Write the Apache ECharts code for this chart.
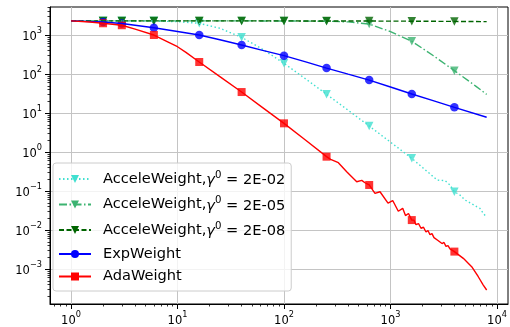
<!DOCTYPE html>
<html>
<head>
<meta charset="utf-8">
<script src="https://cdn.jsdelivr.net/npm/echarts@6/dist/echarts.min.js"></script>
<style>
  html, body { margin: 0; padding: 0; background: #fff; }
  #chart { width: 510px; height: 327px; }
</style>
</head>
<body>
<div id="chart"></div>
<script>
// iterations where markers are drawn
var markX = [2, 3, 6, 16, 40, 100, 251, 631, 1585, 3981];

// AcceleWeight, gamma0 = 2E-02
var accel02X = [1, 2, 3, 6, 10, 16, 25, 40, 63, 100, 160, 251, 400, 631, 1000, 1585, 2000, 2523, 2751, 3249, 3620, 3981, 4494, 5005, 5579, 6449, 6923, 7435, 8000];
var accel02Y = [2300, 2300, 2300, 2280, 2200, 1990, 1490, 873, 430, 188, 74.5, 30.1, 11.8, 4.64, 1.79, 0.69, 0.40, 0.233, 0.191, 0.185, 0.143, 0.096, 0.079, 0.0588, 0.050, 0.0396, 0.036, 0.0268, 0.0212];

// AcceleWeight, gamma0 = 2E-05
var accel05X = [1, 2, 3, 6, 16, 40, 100, 251, 400, 631, 1000, 1585, 2512, 3981, 6310, 8000];
var accel05Y = [2300, 2300, 2300, 2300, 2300, 2300, 2290, 2250, 2170, 1910, 1220, 690, 298, 122, 49, 30];

// AcceleWeight, gamma0 = 2E-08
var accel08X = [1, 2, 3, 6, 16, 40, 100, 251, 631, 1585, 3981, 8000];
var accel08Y = [2300, 2300, 2300, 2300, 2300, 2300, 2300, 2290, 2280, 2260, 2230, 2200];

// ExpWeight
var expX = [1, 2, 3, 6, 10, 16, 25, 40, 63, 100, 160, 251, 400, 631, 1000, 1585, 2512, 3981, 8000];
var expY = [2300, 2150, 1980, 1540, 1230, 1000, 755, 555, 405, 295, 204, 142, 99, 70, 46.5, 30.7, 20.8, 14.0, 7.8];

// AdaWeight
var adaX = [1, 1.5, 2, 3, 4, 6, 8, 10, 12, 16, 25, 40, 63, 100, 160, 251, 274, 324, 388, 482, 537, 576, 631,
  715, 797, 948, 1049, 1184, 1302, 1383, 1476, 1585, 1663, 1736, 1832, 1934, 2041, 2154, 2250, 2349, 2453,
  2561, 2674, 2793, 2916, 3045, 3180, 3320, 3467, 3620, 3981, 4827, 5787, 6674, 7435, 8000];
var adaY = [2300, 2160, 2000, 1780, 1420, 1000, 680, 500, 360, 203, 86, 34.5, 13.8, 5.44, 2.01, 0.76, 0.65, 0.532, 0.313, 0.173, 0.188, 0.163, 0.143,
  0.0873, 0.096, 0.0492, 0.0571, 0.0303, 0.036, 0.0235, 0.0265, 0.018, 0.0179, 0.0137, 0.0147, 0.0111, 0.0118, 0.0089, 0.0097, 0.0076, 0.0081,
  0.0064, 0.0068, 0.0054, 0.0057, 0.0045, 0.0048, 0.0038, 0.0040, 0.0033, 0.0028, 0.00188, 0.00115, 0.000635, 0.000389, 0.00029];

// axis ranges and major ticks
var xMin = 0.635, xMax = 12690;
var yMin = 1.27e-4, yMax = 5224;
var majorX = [1, 10, 100, 1000, 10000];
var majorY = [1e-3, 1e-2, 1e-1, 1, 10, 100, 1000];

var FONT = 'DejaVu Sans';

function minorTicks(lo, hi) {
  var out = [];
  for (var e = -5; e <= 5; e++) {
    for (var m = 2; m <= 9; m++) {
      var v = Number((m * Math.pow(10, e)).toPrecision(6));
      if (v >= lo && v <= hi) out.push(v);
    }
  }
  return out;
}

function pts(xs, ys) {
  return xs.map(function (x, i) { return [x, ys[i]]; });
}
function marks(xs, ys) {
  return markX.map(function (mx) { return [mx, ys[xs.indexOf(mx)]]; });
}

function supLabel(v) {
  var e = Math.round(Math.log10(v));
  return '{b|10}{s|' + (e < 0 ? '\u2212' + (-e) : e) + '}';
}
var tickRich = {
  b: { fontFamily: FONT, fontSize: 11.5, lineHeight: 16, color: '#000', verticalAlign: 'bottom' },
  s: { fontFamily: FONT, fontSize: 8.2, lineHeight: 6, color: '#000', verticalAlign: 'top' }
};

var TRI = 'path://M0,0L2,0L1,2Z';

var seriesDefs = [
  { name: 'AcceleWeight,γ⁰ = 2E-02', xs: accel02X, ys: accel02Y, color: '#40E0D0', dash: [1.5, 2.5], symbol: TRI, size: 8.5 },
  { name: 'AcceleWeight,γ⁰ = 2E-05', xs: accel05X, ys: accel05Y, color: '#3CB371', dash: [8, 2.5, 1.5, 2.5], symbol: TRI, size: 8.5 },
  { name: 'AcceleWeight,γ⁰ = 2E-08', xs: accel08X, ys: accel08Y, color: '#006400', dash: [5, 2.5], symbol: TRI, size: 8.5 },
  { name: 'ExpWeight', xs: expX, ys: expY, color: '#0000FF', dash: 'solid', symbol: 'circle', size: 8.5 },
  { name: 'AdaWeight', xs: adaX, ys: adaY, color: '#FF0000', dash: 'solid', symbol: 'rect', size: 8 }
];

var series = [];
seriesDefs.forEach(function (d) {
  series.push({
    type: 'line', name: d.name, data: pts(d.xs, d.ys),
    showSymbol: false, symbol: d.symbol, symbolSize: d.size,
    lineStyle: { color: d.color, width: 1.4, type: d.dash },
    itemStyle: { color: d.color },
    silent: true, animation: false
  });
  series.push({
    type: 'scatter', name: d.name, data: marks(d.xs, d.ys),
    symbol: d.symbol, symbolSize: d.size,
    itemStyle: { color: d.color },
    silent: true, animation: false
  });
});

var chart = echarts.init(document.getElementById('chart'), null, { renderer: 'canvas' });
chart.setOption({
  animation: false,
  backgroundColor: '#fff',
  grid: {
    left: 50, right: 2, top: 7, bottom: 23,
    show: true, borderColor: '#000', borderWidth: 1, backgroundColor: 'transparent',
    outerBoundsMode: 'none'
  },
  xAxis: [
    {
      type: 'log', logBase: 10, min: xMin, max: xMax, position: 'bottom',
      axisLine: { show: true, onZero: false, lineStyle: { color: '#000', width: 1 } },
      axisTick: { show: true, inside: false, length: 5, customValues: majorX, lineStyle: { color: '#000', width: 1 } },
      axisLabel: { customValues: majorX, formatter: supLabel, rich: tickRich, margin: 7, color: '#000' },
      splitLine: { show: true, lineStyle: { color: '#c4c4c4', width: 1 } },
      minorTick: { show: false }, minorSplitLine: { show: false }
    },
    {
      type: 'log', logBase: 10, min: xMin, max: xMax, position: 'bottom',
      axisLine: { show: false },
      axisTick: { show: true, inside: false, length: 2.5, customValues: minorTicks(xMin, xMax), lineStyle: { color: '#000', width: 0.8 } },
      axisLabel: { show: false },
      splitLine: { show: false }
    }
  ],
  yAxis: [
    {
      type: 'log', logBase: 10, min: yMin, max: yMax, position: 'left',
      axisLine: { show: true, onZero: false, lineStyle: { color: '#000', width: 1 } },
      axisTick: { show: true, inside: false, length: 5, customValues: majorY, lineStyle: { color: '#000', width: 1 } },
      axisLabel: { customValues: majorY, formatter: supLabel, rich: tickRich, margin: 8, color: '#000' },
      splitLine: { show: true, lineStyle: { color: '#c4c4c4', width: 1 } },
      minorTick: { show: false }, minorSplitLine: { show: false }
    },
    {
      type: 'log', logBase: 10, min: yMin, max: yMax, position: 'left',
      axisLine: { show: false },
      axisTick: { show: true, inside: false, length: 2.5, customValues: minorTicks(yMin, yMax), lineStyle: { color: '#000', width: 0.8 } },
      axisLabel: { show: false },
      splitLine: { show: false }
    }
  ],
  legend: {
    orient: 'vertical', left: 53, top: 163,
    padding: [7, 6, 7, 5],
    itemWidth: 32, itemHeight: 10, itemGap: 7.5,
    backgroundColor: 'rgba(255,255,255,0.8)', borderColor: '#cccccc', borderWidth: 1, borderRadius: 3,
    selectedMode: false,
    textStyle: {
      fontFamily: FONT, fontSize: 14.6, color: '#000', lineHeight: 18, padding: [0, 0, 0, 7],
      rich: {
        g: { fontFamily: FONT, fontSize: 14.6, fontStyle: 'italic', color: '#000', lineHeight: 18, verticalAlign: 'bottom' },
        p: { fontFamily: FONT, fontSize: 10.2, color: '#000', lineHeight: 7, verticalAlign: 'top' },
        t: { fontFamily: FONT, fontSize: 14.6, color: '#000', lineHeight: 18, verticalAlign: 'bottom' }
      }
    },
    formatter: function (name) {
      if (name.indexOf('AcceleWeight') === 0) {
        return 'AcceleWeight,{g|γ}{p|0}{t| = ' + name.split('= ')[1] + '}';
      }
      return name;
    },
    data: [
      { name: seriesDefs[0].name },
      { name: seriesDefs[1].name },
      { name: seriesDefs[2].name },
      { name: 'ExpWeight', textStyle: { lineHeight: 14 } },
      { name: 'AdaWeight', textStyle: { lineHeight: 14 } }
    ]
  },
  series: series
});
</script>
</body>
</html>
